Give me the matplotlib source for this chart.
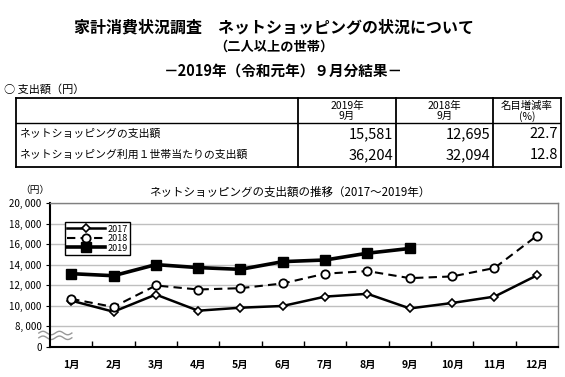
import matplotlib.pyplot as plt
import numpy as np

plt.rcParams['font.family'] = ['Noto Sans CJK JP', 'DejaVu Sans']

months = ['1月', '2月', '3月', '4月', '5月', '6月', '7月', '8月', '9月', '10月', '11月', '12月']
spend_2017 = [10510, 9430, 11100, 9530, 9820, 9990, 10900, 11170, 9750, 10280, 10900, 12960]
spend_2018 = [10680, 9890, 11980, 11590, 11720, 12180, 13130, 13380, 12695, 12860, 13680, 16810]
spend_2019 = [13130, 12930, 14010, 13720, 13550, 14300, 14460, 15120, 15581]

# y axis is broken: the lowest tick stands for 0
ytick_vals = [6000, 8000, 10000, 12000, 14000, 16000, 18000, 20000]
ytick_labels = ['0', '8, 000', '10, 000', '12, 000', '14, 000', '16, 000', '18, 000', '20, 000']

row_labels = ['ネットショッピングの支出額', 'ネットショッピング利用１世帯当たりの支出額']
col_labels = ['2019年\n9月', '2018年\n9月', '名目増減率\n(%)']
val_2019 = ['15,581', '36,204']
val_2018 = ['12,695', '32,094']
change = ['22.7', '12.8']

W, H = 565, 377
fig = plt.figure(figsize=(W / 100, H / 100), dpi=100)

def fx(px):
    return px / W

def fy(py):
    return 1 - py / H

# headings
fig.text(fx(274), fy(27), '家計消費状況調査　ネットショッピングの状況について',
         ha='center', va='center', fontsize=11.5, fontweight='bold')
fig.text(fx(274), fy(47), '（二人以上の世帯）', ha='center', va='center',
         fontsize=9.5, fontweight='bold')
fig.text(fx(283), fy(71), '－2019年（令和元年）９月分結果－', ha='center', va='center',
         fontsize=10.5, fontweight='bold')
fig.text(fx(4), fy(89), '○ 支出額（円）', ha='left', va='center', fontsize=8)

# table
top, bot, hdr = 98, 167, 123
tx = fig.add_axes([fx(16), fy(bot), fx(561) - fx(16), fy(top) - fy(bot)])
tx.set_xlim(16, 561)
tx.set_ylim(bot, top)
tx.axis('off')
col_edges = [16, 298, 396, 493, 561]
for x in col_edges:
    tx.plot([x, x], [top, bot], color='black', lw=1.3, clip_on=False)
for y in [top, bot]:
    tx.plot([16, 561], [y, y], color='black', lw=1.3, clip_on=False)
tx.plot([16, 561], [hdr, hdr], color='black', lw=1.0)
for i, lab in enumerate(col_labels):
    cx = (col_edges[i + 1] + col_edges[i + 2]) / 2
    tx.text(cx, 111, lab, ha='center', va='center', fontsize=7.5, linespacing=1.0)
row_y = [134, 155]
for i in range(2):
    tx.text(19, row_y[i], row_labels[i], ha='left', va='center', fontsize=7.8)
    tx.text(col_edges[2] - 3, row_y[i], val_2019[i], ha='right', va='center', fontsize=10.5)
    tx.text(col_edges[3] - 3, row_y[i], val_2018[i], ha='right', va='center', fontsize=10.5)
    tx.text(col_edges[4] - 3, row_y[i], change[i], ha='right', va='center', fontsize=10.5)

# chart
ax = fig.add_axes([fx(50), fy(347), fx(558) - fx(50), fy(203) - fy(347)])
x = np.arange(1, 13)
ax.plot(x, spend_2017, color='black', lw=1.8, marker='D', markersize=4.5,
        markerfacecolor='white', markeredgecolor='black', markeredgewidth=1.2, label='2017')
ax.plot(x, spend_2018, color='black', lw=1.5, ls=(0, (4, 2.5)), marker='o', markersize=6,
        markerfacecolor='white', markeredgecolor='black', markeredgewidth=1.3, label='2018')
ax.plot(x[:len(spend_2019)], spend_2019, color='black', lw=2.6, marker='s', markersize=6.5,
        markerfacecolor='black', label='2019')

ax.set_xlim(0.5, 12.5)
ax.set_ylim(6000, 20000)
ax.set_yticks(ytick_vals)
ax.set_yticklabels(ytick_labels, fontsize=7)
ax.set_xticks(x)
ax.set_xticklabels(months, fontsize=7.5, fontweight='bold')
ax.set_xticks(np.arange(1.5, 12.5, 1), minor=True)
ax.tick_params(axis='x', which='major', length=0, pad=9)
ax.tick_params(axis='x', which='minor', direction='in', length=4, width=1)
ax.tick_params(axis='y', length=3, direction='out', pad=3)
ax.yaxis.grid(True, color='#bfbfbf', lw=1)
ax.set_axisbelow(True)
for side in ['left', 'bottom']:
    ax.spines[side].set_linewidth(1.5)
    ax.spines[side].set_color('black')
for side in ['top', 'right']:
    ax.spines[side].set_linewidth(1.0)
    ax.spines[side].set_color('#808080')

leg = ax.legend(loc='upper left', bbox_to_anchor=(0.02, 0.9), fontsize=6.5,
                handlelength=4.2, handletextpad=0.2, labelspacing=0.05,
                borderpad=0.3, fancybox=False, framealpha=1, edgecolor='black')
leg.get_frame().set_linewidth(1.0)

# wavy break marks on the y axis
t = np.linspace(-0.022, 0.043, 60)
for yb in [0.097, 0.064]:
    ax.plot(t, yb + 0.012 * np.sin((t + 0.022) / 0.065 * 4 * np.pi), color='#999999',
            lw=1.0, transform=ax.transAxes, clip_on=False)

fig.text(fx(290), fy(192), 'ネットショッピングの支出額の推移（2017～2019年）',
         ha='center', va='center', fontsize=8.3)
fig.text(fx(35), fy(190), '（円）', ha='center', va='center', fontsize=7)

fig.savefig('out.png', dpi=100)
